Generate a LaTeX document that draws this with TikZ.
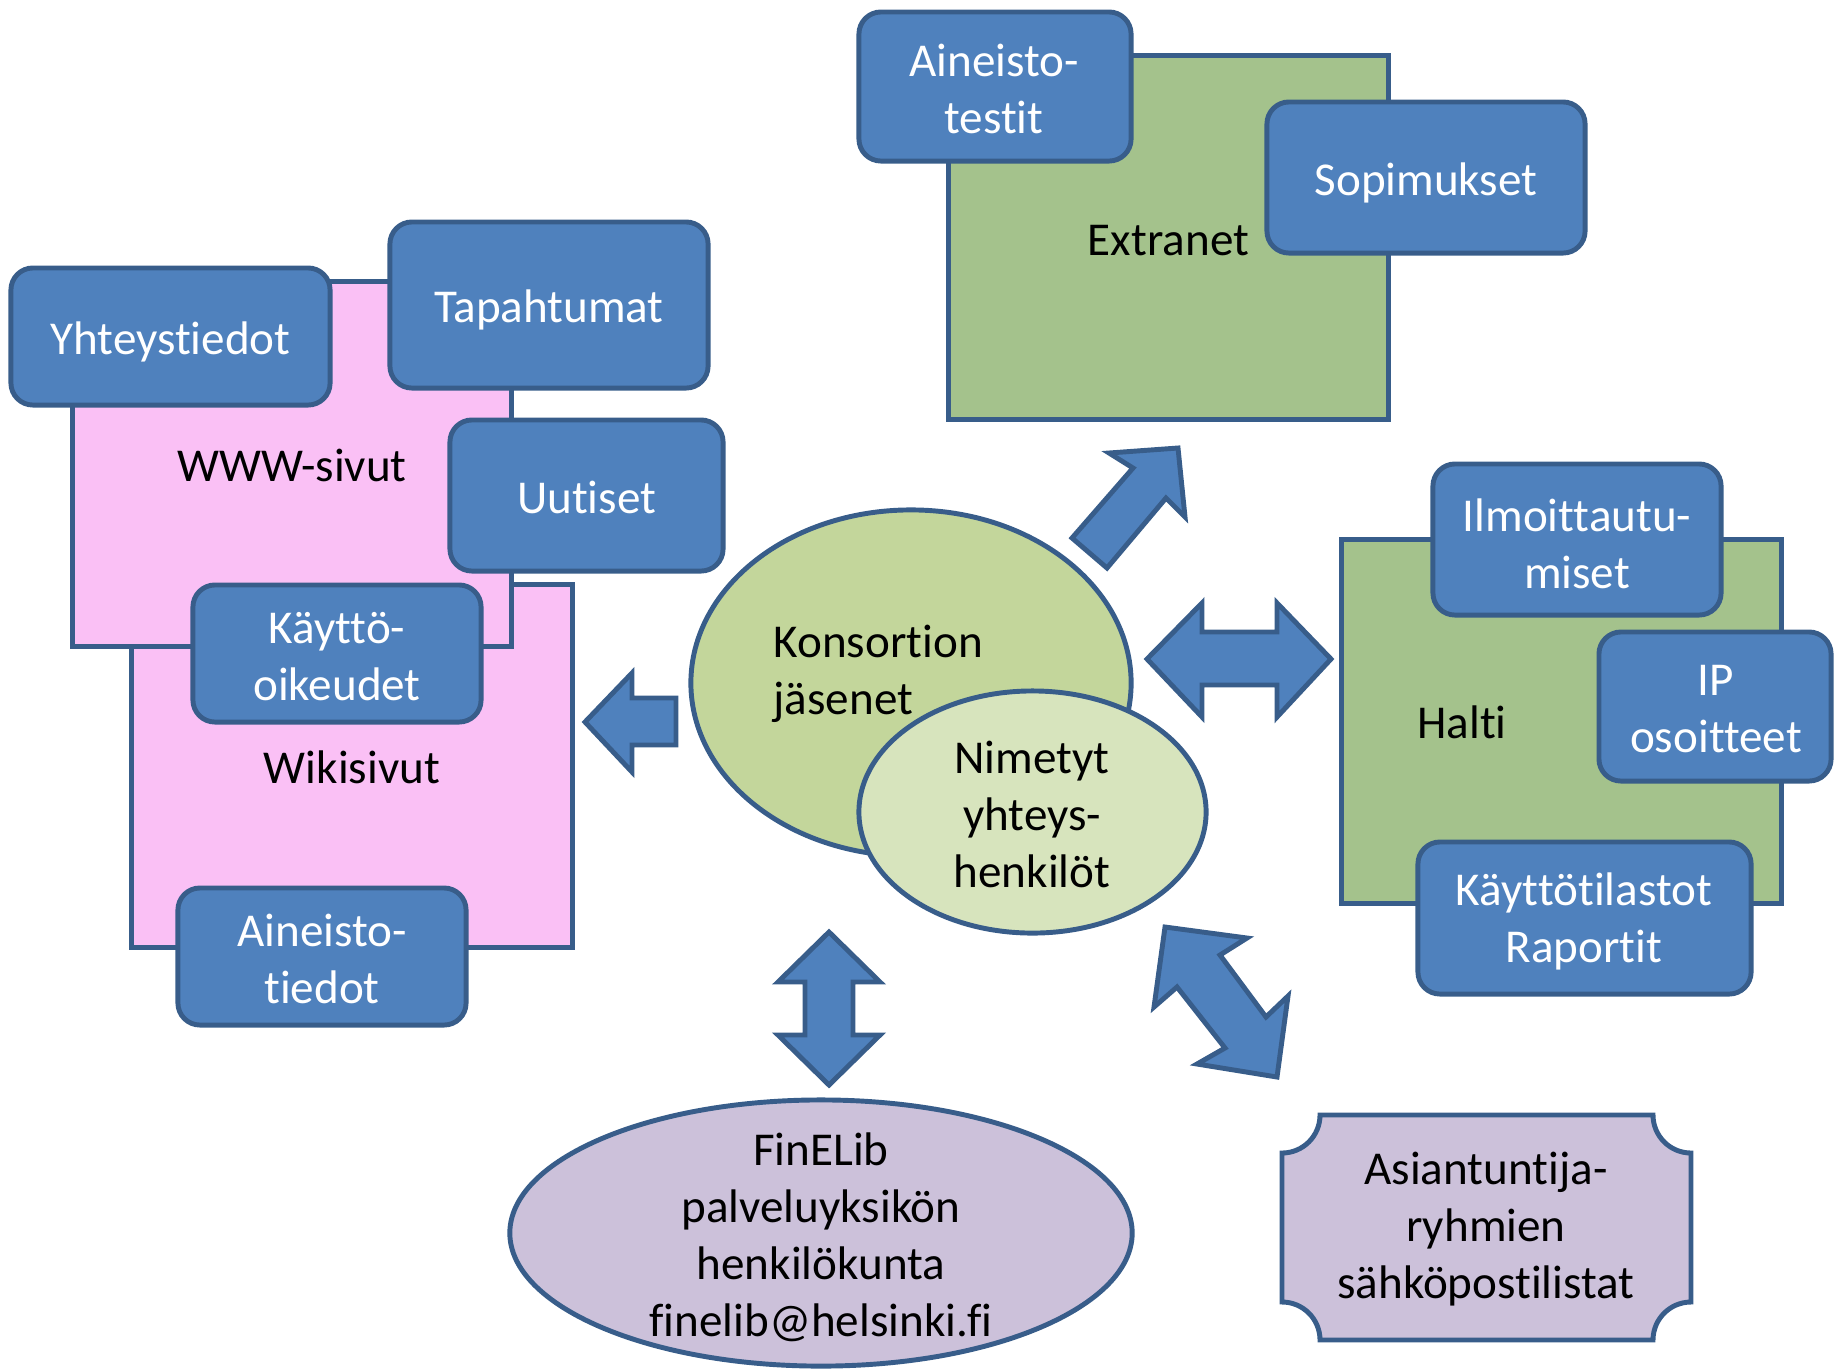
\documentclass[tikz,border=0pt]{standalone}
\usepackage{fontspec}
\setmainfont{Carlito}[Ligatures={NoCommon}]
\usetikzlibrary{shapes.geometric}
\definecolor{bfill}{HTML}{4F81BD}
\definecolor{bline}{HTML}{385D8A}
\definecolor{pinkf}{HTML}{FAC0F5}
\definecolor{greenf}{HTML}{A4C28C}
\definecolor{konsf}{HTML}{C3D69B}
\definecolor{nimf}{HTML}{D7E4BD}
\definecolor{lavf}{HTML}{CCC1DA}
\begin{document}
\begin{tikzpicture}[x=0.01cm,y=-0.01cm,
 every node/.style={font=\fontsize{13.4pt}{16.2pt}\selectfont},
 pptstrut/.style={execute at begin node={\rule{0pt}{1.0em}}, execute at end node={\rule[-0.25em]{0pt}{0pt}}},
 bluebox/.style={draw=bline, fill=bfill, line width=1.4pt, rounded corners=0.22cm, text=white, align=center, inner sep=0pt, pptstrut},
 area/.style={draw=bline, line width=1.4pt, align=center, inner sep=0pt, pptstrut},
 blk/.style={draw=bline, fill=bfill, line width=1.4pt, line join=miter},
 oval/.style={ellipse, draw=bline, line width=1.4pt, inner sep=0pt},
 lbl/.style={align=center, inner sep=0pt},
 wlbl/.style={lbl, text=white}
]
\useasboundingbox (0,0) rectangle (1834,1369);

% Extranet group
\node[area, fill=greenf, minimum width=4.39cm, minimum height=3.63cm] (extranet) at (1168.5,237.5) {Extranet};
\node[bluebox, minimum width=2.72cm, minimum height=1.49cm] (ainetest) at (995,86.5) {};
\node[wlbl] (ainetestlbl) at (994,89) {Aineisto-\\testit};
\node[bluebox, minimum width=3.18cm, minimum height=1.51cm] (sopim) at (1426,177.5) {Sopimukset};

% Wiki / WWW group
\node[area, fill=pinkf, minimum width=4.40cm, minimum height=3.62cm] (wiki) at (352,766) {Wikisivut};
\node[area, fill=pinkf, minimum width=4.38cm, minimum height=3.64cm] (www) at (292,464) {WWW-sivut};
\node[bluebox, minimum width=3.19cm, minimum height=1.37cm] (yht) at (170.5,336.5) {Yhteystiedot};
\node[bluebox, minimum width=3.18cm, minimum height=1.66cm] (tapaht) at (549,305) {Tapahtumat};
\node[bluebox, minimum width=2.73cm, minimum height=1.51cm] (uutiset) at (586.5,495.5) {Uutiset};
\node[bluebox, minimum width=2.88cm, minimum height=1.37cm] (kayttooik) at (337,653.5) {};
\node[wlbl] (kayttooiklbl) at (337,657) {Käyttö-\\oikeudet};
\node[bluebox, minimum width=2.88cm, minimum height=1.37cm] (ainetied) at (322,956.5) {};
\node[wlbl] (ainetiedlbl) at (322,959) {Aineisto-\\tiedot};

% Halti group
\node[area, fill=greenf, minimum width=4.39cm, minimum height=3.63cm] (halti) at (1561.5,721.5) {};
\node[lbl] (haltilbl) at (1462,722) {Halti};
\node[bluebox, minimum width=2.88cm, minimum height=1.51cm] (ilmo) at (1577,539.5) {};
\node[wlbl] (ilmolbl) at (1577,544) {Ilmoittautu-\\miset};
\node[bluebox, minimum width=2.32cm, minimum height=1.49cm] (ip) at (1715,706.5) {};
\node[wlbl] (iplbl) at (1716,709) {IP\\osoitteet};
\node[bluebox, minimum width=3.33cm, minimum height=1.52cm] (tilastot) at (1584.5,918) {};
\node[wlbl] (tilastotlbl) at (1584,921) {Käyttötilastot\\Raportit};

% Centre ellipses
\node[oval, fill=konsf, minimum width=4.40cm, minimum height=3.46cm] (kons) at (911,683) {};
\node[lbl, anchor=west, align=left] (konslbl) at (773,674) {Konsortion\\jäsenet};
\node[oval, fill=nimf, minimum width=3.47cm, minimum height=2.42cm] (nim) at (1032.5,812) {};
\node[lbl] (nimlbl) at (1032,814) {Nimetyt\\yhteys-\\henkilöt};

% FinELib ellipse
\node[oval, fill=lavf, minimum width=6.22cm, minimum height=2.66cm] (finelib) at (821,1233) {};
\node[lbl] (finelbl) at (821,1237) {FinELib\\palveluyksikön\\henkilökunta\\finelib@helsinki.fi};

% Plaque
\draw[draw=bline, fill=lavf, line width=1.4pt]
 (1320,1115) -- (1653,1115) .. controls (1653,1136) and (1670,1153) .. (1691,1153)
 -- (1691,1302) .. controls (1670,1302) and (1653,1319) .. (1653,1340)
 -- (1320,1340) .. controls (1320,1319) and (1303,1302) .. (1282,1302)
 -- (1282,1153) .. controls (1303,1153) and (1320,1136) .. (1320,1115) -- cycle;
\node[lbl] (asian) at (1486,1229) {Asiantuntija-\\ryhmien\\sähköpostilistat};

% Block arrows
% left arrow (to wiki/www)
\draw[blk] (585,722) -- (632,673) -- (632,698) -- (676,698) -- (676,745) -- (632,745) -- (632,772) -- cycle;
% NE arrow (to extranet)
\draw[blk] (1178,448) -- (1109,453) -- (1133,468) -- (1072,538) -- (1107,568) -- (1166,498) -- (1185,517) -- cycle;
% horizontal double arrow (to Halti)
\draw[blk] (1147,659) -- (1202,603) -- (1202,632) -- (1277,632) -- (1277,603) -- (1331,659)
 -- (1277,717) -- (1277,685) -- (1202,685) -- (1202,717) -- cycle;
% vertical double arrow (to FinELib)
\draw[blk] (829,932) -- (880,982) -- (853,982) -- (853,1035) -- (880,1035) -- (829,1085)
 -- (778,1035) -- (805,1035) -- (805,982) -- (778,982) -- cycle;
% diagonal double arrow (to plaque)
\draw[blk] (1165,927) -- (1247,938) -- (1220,955) -- (1266,1017) -- (1288,996) -- (1277,1077)
 -- (1197,1064) -- (1225,1048) -- (1177,987) -- (1154,1007) -- cycle;
\end{tikzpicture}
\end{document}
